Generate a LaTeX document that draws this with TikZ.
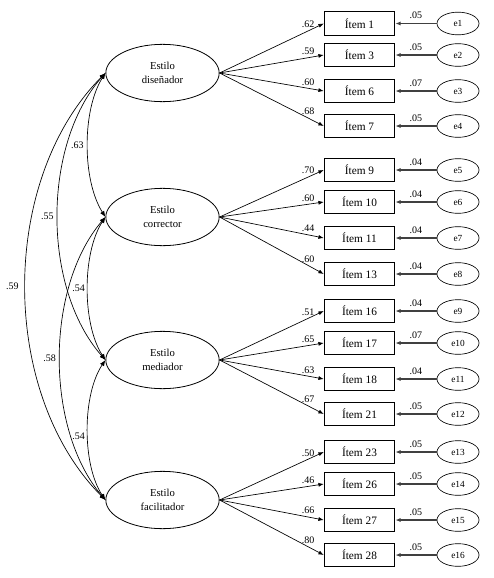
\documentclass[tikz,border=0pt]{standalone}
\usepackage{fontspec}
\setmainfont{Liberation Serif}
\usetikzlibrary{shapes.geometric,arrows.meta}
\begin{document}
\begin{tikzpicture}[x=0.75pt,y=-0.75pt,
 latent/.style={ellipse,draw,line width=0.6pt,minimum width=85pt,minimum height=43pt,inner sep=0pt,align=center,font=\fontsize{8}{10.5}\selectfont},
 item/.style={rectangle,draw,line width=0.6pt,minimum width=53pt,minimum height=17.5pt,inner sep=0pt,font=\fontsize{8.5}{10}\selectfont},
 err/.style={ellipse,draw,line width=0.5pt,minimum width=31.5pt,minimum height=17pt,inner sep=0pt,font=\fontsize{7}{8}\selectfont},
 load/.style={-{Latex[length=4pt,width=3pt]},line width=0.5pt},
 errarr/.style={-{Latex[length=4pt,width=3pt]},line width=0.9pt,draw=black!75},
 cov/.style={{Latex[length=4.5pt,width=3.5pt]}-{Latex[length=4.5pt,width=3.5pt]},line width=0.5pt},
 num/.style={font=\fontsize{7.5}{8}\selectfont,inner sep=1pt,text=black},
]
\useasboundingbox (0,0) rectangle (493,578);

\node[latent] (D) at (162.5,73) {Estilo\\diseñador};
\node[latent] (C) at (162.5,217) {Estilo\\corrector};
\node[latent] (M) at (162.5,360) {Estilo\\mediador};
\node[latent] (F) at (162.5,500) {Estilo\\facilitador};

\foreach \n/\y/\t/\l/\e/\g in {
 1/23.5/1/.62/.05/D, 2/55/3/.59/.05/D, 3/91/6/.60/.07/D, 4/126/7/.68/.05/D,
 5/170/9/.70/.04/C, 6/202/10/.60/.04/C, 7/238/11/.44/.04/C, 8/274/13/.60/.04/C,
 9/311/16/.51/.04/M, 10/343/17/.65/.07/M, 11/379/18/.63/.04/M, 12/414/21/.67/.05/M,
 13/452/23/.50/.05/F, 14/484/26/.46/.05/F, 15/520/27/.66/.05/F, 16/555/28/.80/.05/F}{
 \node[item] (i\n) at (359.5,\y) {Ítem \t};
 \node[err] (e\n) at (458,\y) {e\n};
 \draw[load] (\g.east) -- node[num,pos=0.85,above=1pt]{\l} (i\n.west);
 \draw[errarr] (e\n.west) -- node[num,midway,above=2pt]{\e} (i\n.east);
}

\draw[cov] (D.west) .. controls (82,110) and (82,180) .. node[num,left=2pt]{.63} (C.west);
\draw[cov] (D.west) .. controls (42,145) and (42,288) .. node[num,left=2pt]{.55} (M.west);
\draw[cov] (D.west) .. controls (-1,180) and (-1,393) .. node[num,left=4pt]{.59} (F.west);
\draw[cov] (C.west) .. controls (82,253) and (82,324) .. node[num,left=1pt]{.54} (M.west);
\draw[cov] (C.west) .. controls (45,288) and (45,429) .. node[num,left=2pt]{.58} (F.west);
\draw[cov] (M.west) .. controls (82,395) and (82,465) .. node[num,left=1pt,yshift=-5pt]{.54} (F.west);
\end{tikzpicture}
\end{document}
